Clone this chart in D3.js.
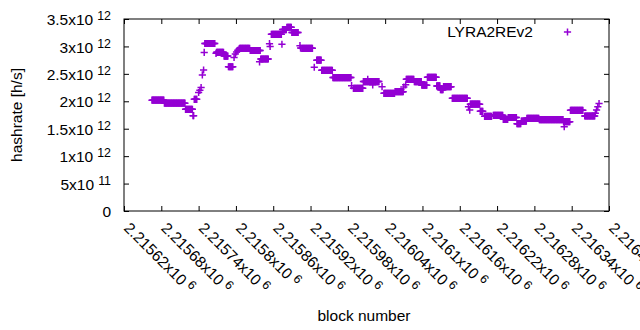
<!DOCTYPE html>
<html>
<head>
<meta charset="utf-8">
<script src="https://cdn.jsdelivr.net/npm/d3@7/dist/d3.min.js"></script>
<style>
  html, body { margin: 0; padding: 0; background: #fff; }
  svg { display: block; }
  text { font-family: "Liberation Sans", Arial, sans-serif; fill: #000; }
</style>
</head>
<body>
<svg id="chart" width="640" height="330"></svg>
<script>
// ---- data (runs of consecutive blocks sharing the same reported hashrate, value in units of 1e12 h/s)
const runStart = [2215665,2215685,2215719,2215731,2215733,2215740,2215742,2215744,2215746,2215748,
  2215749,2215750,2215768,2215769,2215781,2215788,2215797,2215799,2215801,2215803,
  2215805,2215806,2215823,2215838,2215840,2215854,2215855,2215857,2215874,2215875,
  2215882,2215890,2215903,2215904,2215906,2215926,2215930,2215938,2215956,2215986,
  2215989,2216005,2216012,2216020,2216035,2216038,2216056,2216070,2216073,2216074,
  2216087,2216099,2216108,2216123,2216129,2216134,2216148,2216174,2216176,2216177,
  2216193,2216200,2216214,2216230,2216238,2216252,2216259,2216268,2216288,2216327,
  2216328,2216338,2216361,2216378,2216380,2216382,2216384];
const runEnd = [2215684,2215718,2215730,2215732,2215737,2215740,2215742,2215744,2215746,2215748,
  2215749,2215766,2215768,2215780,2215787,2215795,2215797,2215799,2215801,2215803,
  2215805,2215822,2215839,2215838,2215852,2215854,2215855,2215873,2215874,2215881,
  2215889,2215900,2215903,2215904,2215923,2215926,2215937,2215955,2215985,2215986,
  2216004,2216030,2216012,2216020,2216035,2216055,2216069,2216070,2216073,2216086,
  2216098,2216107,2216122,2216128,2216133,2216146,2216172,2216174,2216176,2216192,
  2216197,2216211,2216229,2216237,2216251,2216258,2216267,2216287,2216326,2216337,
  2216328,2216358,2216377,2216378,2216380,2216382,2216384];
const runValue = [2.02,1.965,1.854,1.737,2.036,2.16,2.20,2.25,2.48,2.57,
  2.89,3.053,2.875,2.893,2.825,2.63,2.80,2.86,2.90,2.93,
  2.95,2.966,2.926,2.72,2.771,3.05,3.00,3.221,3.04,3.308,
  3.35,3.254,3.013,2.97,2.966,2.62,2.749,2.565,2.433,2.284,
  2.237,2.36,2.40,2.30,2.266,2.145,2.175,2.26,2.30,2.40,
  2.357,2.293,2.437,2.28,2.21,2.266,2.054,1.90,1.84,1.947,
  1.817,1.726,1.744,1.672,1.704,1.591,1.637,1.69,1.664,1.628,
  1.537,1.836,1.732,1.78,1.84,1.90,1.96];
const valueUnit = 1e12;

const seriesName = "LYRA2REv2";

const xTickValues = [2215620,2215680,2215740,2215800,2215860,2215920,2215980,2216040,
  2216100,2216160,2216220,2216280,2216340,2216400];
const xTickLabels = ["2.21562x10^6","2.21568x10^6","2.21574x10^6","2.2158x10^6","2.21586x10^6",
  "2.21592x10^6","2.21598x10^6","2.21604x10^6","2.2161x10^6","2.21616x10^6","2.21622x10^6",
  "2.21628x10^6","2.21634x10^6","2.2164x10^6"];
const yTickValues = [0,0.5e12,1e12,1.5e12,2e12,2.5e12,3e12,3.5e12];
const yTickLabels = ["0","5x10^11","1x10^12","1.5x10^12","2x10^12","2.5x10^12","3x10^12","3.5x10^12"];

const xTitle = "block number";
const yTitle = "hashrate [h/s]";

// ---- layout
const W = 640, H = 330;
const pLeft = 124, pRight = 609, pTop = 19, pBottom = 211;
const color = "#9400d3";
const fs = 15.5, supFs = 12.4;

const svg = d3.select("#chart");
svg.append("rect").attr("width", W).attr("height", H).attr("fill", "#fff");

const x = d3.scaleLinear().domain([2215620, 2216400]).range([pLeft, pRight]);
const y = d3.scaleLinear().domain([0, 3.5e12]).range([pBottom, pTop]);

// expand runs to one point per block
const points = [];
runStart.forEach((s, i) => {
  for (let b = s; b <= runEnd[i]; b++) points.push({ block: b, value: runValue[i] * valueUnit });
});

function setLabel(sel, label) {
  const parts = label.split("^");
  sel.text(null);
  sel.append("tspan").text(parts[0]);
  if (parts.length > 1) {
    sel.append("tspan").attr("dx", 4).attr("dy", -5).attr("font-size", supFs).text(parts[1]);
  }
}

const tickLen = 5;
// left axis
const gy = svg.append("g").attr("transform", `translate(${pLeft},0)`)
  .call(d3.axisLeft(y).tickValues(yTickValues).tickSize(-tickLen).tickPadding(13)
    .tickFormat((d, i) => yTickLabels[i]));
gy.select(".domain").remove();
gy.selectAll(".tick line").attr("stroke", "#000");
gy.selectAll(".tick text").attr("font-size", fs).attr("font-family", "Liberation Sans, Arial, sans-serif")
  .attr("dy", "0.36em").attr("x", 111 - pLeft)
  .each(function (d, i) { setLabel(d3.select(this), yTickLabels[i]); });

// right mirror ticks
const gyr = svg.append("g").attr("transform", `translate(${pRight},0)`)
  .call(d3.axisRight(y).tickValues(yTickValues).tickSize(-tickLen).tickFormat(""));
gyr.select(".domain").remove();
gyr.selectAll(".tick line").attr("stroke", "#000");

// bottom axis
const gx = svg.append("g").attr("transform", `translate(0,${pBottom})`)
  .call(d3.axisBottom(x).tickValues(xTickValues).tickSize(-tickLen)
    .tickFormat((d, i) => xTickLabels[i]));
gx.select(".domain").remove();
gx.selectAll(".tick line").attr("stroke", "#000");
gx.selectAll(".tick text").attr("font-size", fs).attr("font-family", "Liberation Sans, Arial, sans-serif")
  .attr("text-anchor", "start").attr("x", 0).attr("y", 0).attr("dy", null)
  .attr("transform", "translate(2.5,14) rotate(45)")
  .each(function (d, i) {
    const t = d3.select(this);
    const parts = xTickLabels[i].split("^");
    t.text(null);
    t.append("tspan").attr("dy", "0.36em").text(parts[0]);
    t.append("tspan").attr("dx", 4).attr("dy", -5).attr("font-size", supFs).text(parts[1]);
  });

// top mirror ticks
const gxt = svg.append("g").attr("transform", `translate(0,${pTop})`)
  .call(d3.axisTop(x).tickValues(xTickValues).tickSize(-tickLen).tickFormat(""));
gxt.select(".domain").remove();
gxt.selectAll(".tick line").attr("stroke", "#000");

// border
svg.append("rect").attr("x", pLeft).attr("y", pTop).attr("width", pRight - pLeft).attr("height", pBottom - pTop)
  .attr("fill", "none").attr("stroke", "#000").attr("stroke-width", 1);

// points as "+"
const arm = 3.6;
svg.append("g").selectAll("path").data(points).join("path")
  .attr("d", d => {
    const px = x(d.block), py = y(d.value);
    return `M${px - arm},${py}H${px + arm}M${px},${py - arm}V${py + arm}`;
  })
  .attr("stroke", color).attr("stroke-width", 1.5).attr("fill", "none");

// legend
svg.append("text").attr("x", 533).attr("y", 37).attr("text-anchor", "end").attr("font-size", fs).text(seriesName);
svg.append("path")
  .attr("d", `M${567.5 - arm},32H${567.5 + arm}M567.5,${32 - arm}V${32 + arm}`)
  .attr("stroke", color).attr("stroke-width", 1.5);

// titles
svg.append("text").attr("x", 364).attr("y", 321).attr("text-anchor", "middle").attr("font-size", fs).text(xTitle);
svg.append("text").attr("transform", "translate(22,115) rotate(-90)").attr("text-anchor", "middle")
  .attr("font-size", fs).text(yTitle);
</script>
</body>
</html>
